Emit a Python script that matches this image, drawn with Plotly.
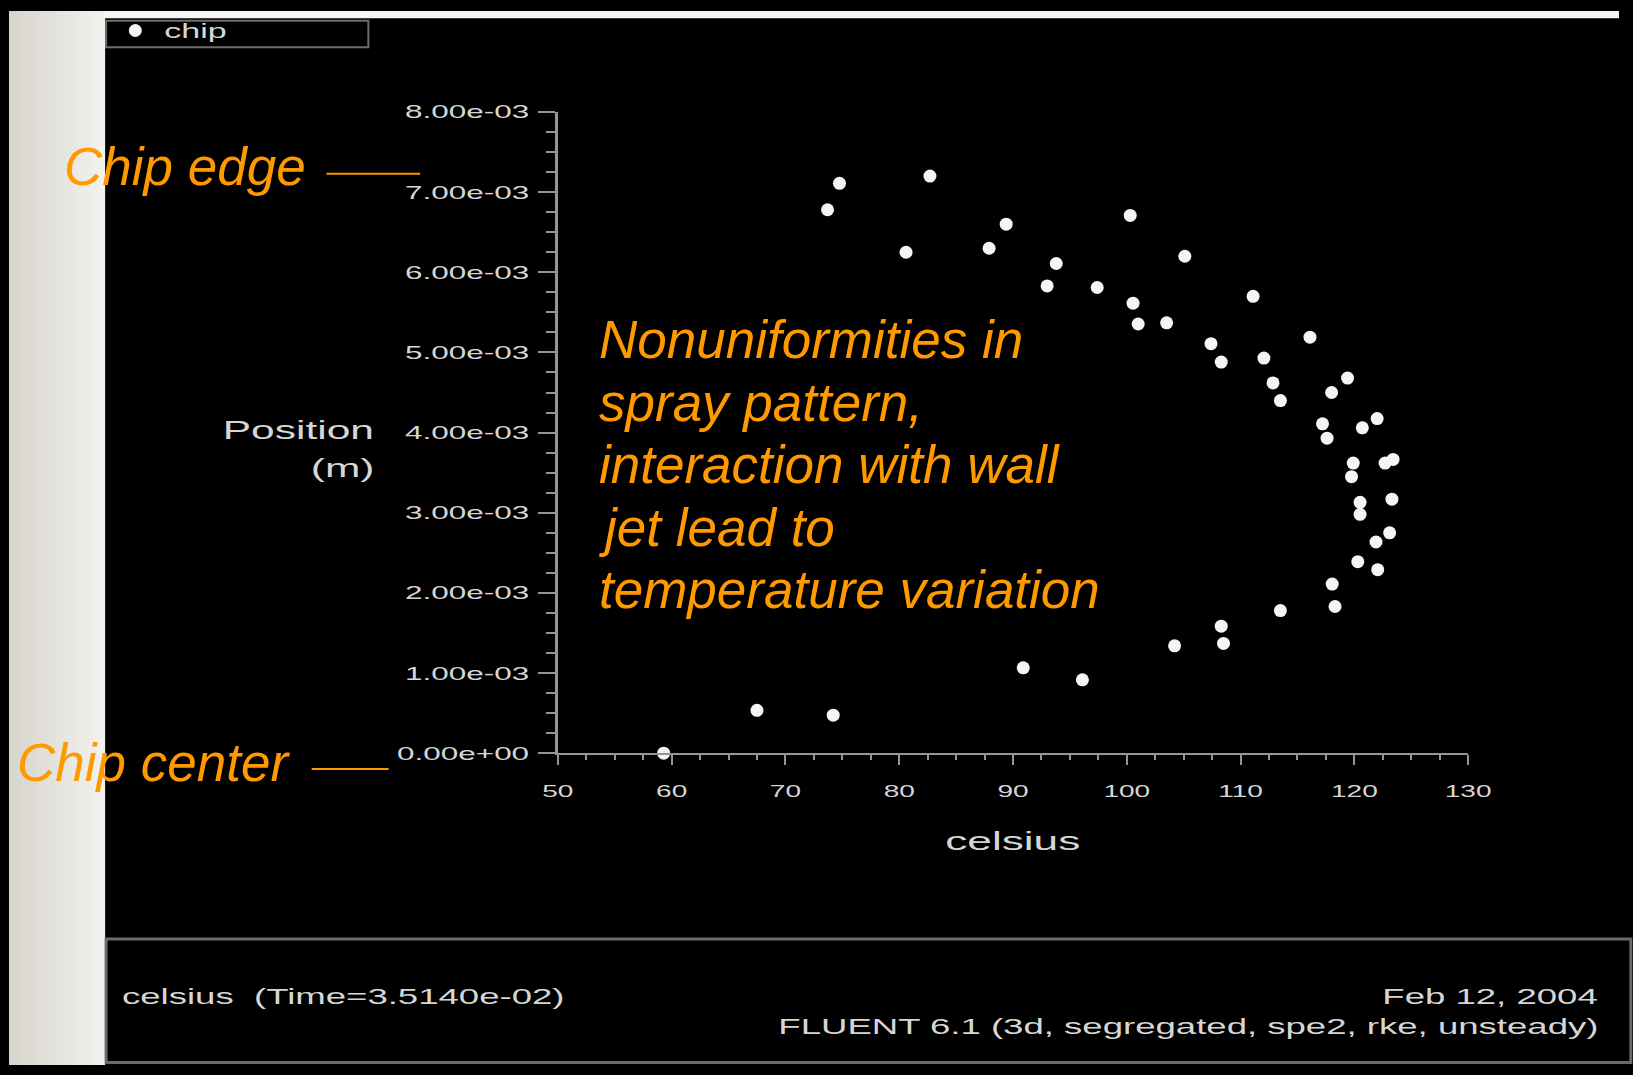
import plotly.graph_objects as go

W, H = 1633, 1075

# Monitored points on the chip surface: temperature (celsius) vs radial position (m)
celsius = [74.75, 73.7, 82.7, 89.4, 80.6, 87.9, 100.3, 93.8, 93.0, 97.4,
           105.1, 100.55, 101.0, 103.5, 111.1, 107.4, 108.3, 116.1, 112.05, 112.85,
           113.5, 119.4, 118.0, 117.2, 117.6, 122.0, 120.7, 119.9, 119.75, 122.7,
           123.4, 120.5, 120.5, 123.3, 123.1, 121.9, 120.3, 122.05, 118.05, 118.3,
           113.5, 108.3, 108.5, 104.2, 96.1, 90.9, 67.5, 74.2, 59.3]
position = [7.11e-3, 6.78e-3, 7.20e-3, 6.60e-3, 6.25e-3, 6.30e-3, 6.71e-3, 6.11e-3, 5.83e-3, 5.81e-3,
            6.20e-3, 5.615e-3, 5.355e-3, 5.37e-3, 5.70e-3, 5.11e-3, 4.88e-3, 5.19e-3, 4.93e-3, 4.62e-3,
            4.40e-3, 4.68e-3, 4.50e-3, 4.11e-3, 3.93e-3, 4.175e-3, 4.06e-3, 3.62e-3, 3.45e-3, 3.62e-3,
            3.665e-3, 3.13e-3, 2.98e-3, 3.17e-3, 2.75e-3, 2.635e-3, 2.39e-3, 2.29e-3, 2.11e-3, 1.83e-3,
            1.78e-3, 1.585e-3, 1.37e-3, 1.34e-3, 0.915e-3, 1.065e-3, 0.535e-3, 0.475e-3, 0.0]

x_ticks = [50, 60, 70, 80, 90, 100, 110, 120, 130]
x_ticklabels = ["50", "60", "70", "80", "90", "100", "110", "120", "130"]
y_ticks = [0.0, 1e-3, 2e-3, 3e-3, 4e-3, 5e-3, 6e-3, 7e-3, 8e-3]
y_ticklabels = ["0.00e+00", "1.00e-03", "2.00e-03", "3.00e-03", "4.00e-03",
                "5.00e-03", "6.00e-03", "7.00e-03", "8.00e-03"]

note_lines = ["Nonuniformities in", "spray pattern,", "interaction with wall",
              "jet lead to", "temperature variation"]


def fx(px):
    return px / W


def fy(py):
    return 1 - py / H


FLUENT_FONT = "Liberation Sans, Arial, sans-serif"
TXT = "#d6d6d6"
AXIS = "#959595"
ORANGE = "#FF9900"

fig = go.Figure()
fig.add_trace(go.Scatter(
    x=celsius, y=position, mode="markers", name="chip",
    marker=dict(color="#f5f5f5", size=13, line=dict(width=0)),
    cliponaxis=False,
))

shapes = []
# light slide margin on the left (soft horizontal gradient) and at the top
n_strips = 24
c0, c1 = (216, 213, 205), (242, 241, 237)
for i in range(n_strips):
    t = i / (n_strips - 1)
    col = tuple(round(a + (b - a) * t) for a, b in zip(c0, c1))
    shapes.append(dict(type="rect", xref="paper", yref="paper", layer="below",
                       x0=fx(97 * i / n_strips), x1=fx(97 * (i + 1) / n_strips + 0.5),
                       y0=0, y1=1, line=dict(width=0),
                       fillcolor="rgb(%d,%d,%d)" % col))
shapes.append(dict(type="rect", xref="paper", yref="paper", layer="below",
                   x0=fx(96), x1=1, y0=fy(7.5), y1=1, line=dict(width=0),
                   fillcolor="#f6f6f4"))
# legend frame
shapes.append(dict(type="rect", xref="paper", yref="paper",
                   x0=fx(98.5), x1=fx(364.5), y0=fy(37), y1=fy(10),
                   line=dict(color="#6e6e6e", width=2)))
# information panel at the bottom
shapes.append(dict(type="rect", xref="paper", yref="paper",
                   x0=fx(98.5), x1=fx(1645), y0=fy(1072.5), y1=fy(946.5),
                   line=dict(color="#6a6a6a", width=3)))
# leader lines for the chip labels
shapes.append(dict(type="line", xref="paper", yref="paper",
                   x0=fx(322), x1=fx(417), y0=fy(166), y1=fy(166),
                   line=dict(color=ORANGE, width=2)))
shapes.append(dict(type="line", xref="paper", yref="paper",
                   x0=fx(307), x1=fx(385), y0=fy(773), y1=fy(773),
                   line=dict(color=ORANGE, width=2)))

annotations = []


def label(text, x, y, xanchor, size, color=TXT, italic=False, family=FLUENT_FONT):
    annotations.append(dict(
        text=text, xref="paper", yref="paper", x=fx(x), y=fy(y),
        xanchor=xanchor, yanchor="middle", align=xanchor if xanchor != "center" else "center",
        showarrow=False, borderpad=0, borderwidth=0,
        font=dict(family=family, size=size, color=color,
                  style="italic" if italic else "normal"),
    ))


# axis titles
label("Position", 370, 427, "right", 25)
label("(m)", 370, 466.5, "right", 25)
label("celsius", 1017.5, 847, "center", 26)

# information panel texts
label("celsius  (Time=3.5140e-02)", 115, 1005.5, "left", 21.5)
label("Feb 12, 2004", 1612, 1005.5, "right", 21.5)
label("FLUENT 6.1 (3d, segregated, spe2, rke, unsteady)", 1612, 1036.5, "right", 21.5)

# slide annotations
ORANGE_FONT = "Liberation Sans, Arial, sans-serif"
label("Chip edge", 56, 159, "left", 53, ORANGE, True, ORANGE_FONT)
label("Chip center", 8, 766.5, "left", 53, ORANGE, True, ORANGE_FONT)
for i, line in enumerate(note_lines):
    label(line, 598, 335 + 63.8 * i, "left", 53, ORANGE, True, ORANGE_FONT)

fig.update_layout(
    autosize=True,
    margin=dict(l=0, r=0, t=0, b=0),
    paper_bgcolor="black", plot_bgcolor="black",
    shapes=shapes, annotations=annotations,
    showlegend=True,
    legend=dict(x=fx(98.7), y=1.0, xanchor="left", yanchor="top",
                bgcolor="rgba(0,0,0,0)", borderwidth=0, itemwidth=48,
                font=dict(family=FLUENT_FONT, size=20, color=TXT)),
    xaxis=dict(
        domain=[fx(556.7), fx(1480)], range=[50, 130],
        tickmode="array", tickvals=x_ticks, ticktext=x_ticklabels,
        ticks="outside", ticklen=10, tickwidth=2, tickcolor=AXIS,
        ticklabelstandoff=12,
        minor=dict(dtick=2.5, ticks="outside", ticklen=5, tickwidth=2, tickcolor=AXIS,
                   showgrid=False),
        showline=True, linecolor=AXIS, linewidth=2,
        showgrid=False, zeroline=False,
        tickfont=dict(family=FLUENT_FONT, size=16.5, color=TXT),
    ),
    yaxis=dict(
        domain=[fy(757), fy(103)], range=[0, 8e-3],
        tickmode="array", tickvals=y_ticks, ticktext=y_ticklabels,
        ticks="outside", ticklen=17, tickwidth=2, tickcolor=AXIS,
        ticklabelstandoff=5,
        minor=dict(dtick=2.5e-4, ticks="outside", ticklen=9, tickwidth=2, tickcolor=AXIS,
                   showgrid=False),
        showline=True, linecolor=AXIS, linewidth=3,
        showgrid=False, zeroline=False,
        tickfont=dict(family=FLUENT_FONT, size=18.5, color=TXT),
    ),
)

# The solver's plot-window text is rendered wide, so those labels are
# stretched horizontally once the figure is drawn.
stretch_js = """
document.body.style.margin = '0';
var gd = document.getElementById('{plot_id}');
gd.querySelectorAll('.legend .scrollbox').forEach(function (n) {
    n.removeAttribute('clip-path');
});
var nodes = gd.querySelectorAll('.xtick text, .ytick text, .legendtext, .annotation-text');
nodes.forEach(function (t) {
    var fill = (t.style.fill || '');
    if (fill.indexOf('255, 153, 0') >= 0) { return; }
    var w = t.getComputedTextLength();
    if (w > 0) {
        t.setAttribute('textLength', (w * 1.7).toFixed(1));
        t.setAttribute('lengthAdjust', 'spacingAndGlyphs');
    }
});
"""

# the graph div is pinned to the page's top-left corner at the full window size
fig.write_html(
    "out.html",
    config={"displayModeBar": False},
    default_width="%dpx; position:absolute; left:0px; top:0px" % W,
    default_height="%dpx" % H,
    post_script=stretch_js,
)
